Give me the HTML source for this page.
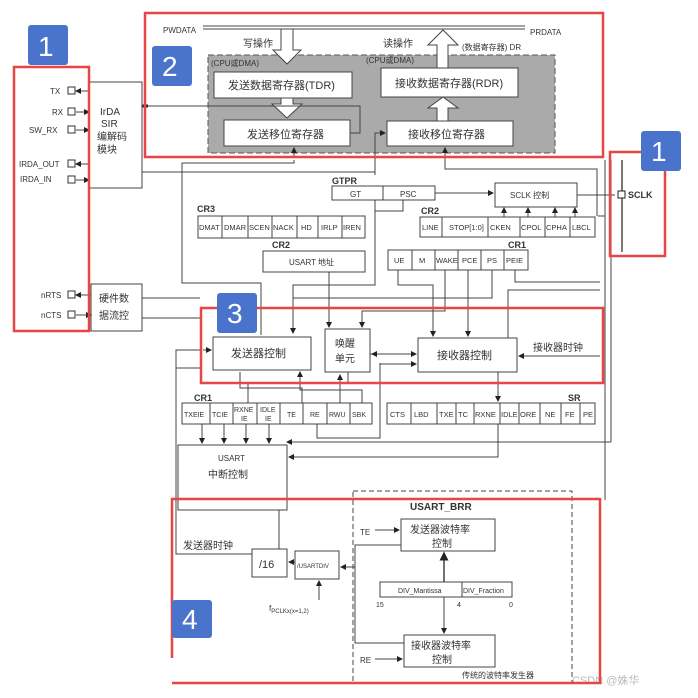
<!DOCTYPE html>
<html><head><meta charset="utf-8"><style>
html,body{margin:0;padding:0;background:#fff;}
svg{display:block;}
text{font-family:"Liberation Sans","Noto Sans CJK SC",sans-serif;fill:#333;}
.b{fill:#fff;stroke:#444;stroke-width:1;}
.l{fill:none;stroke:#444;stroke-width:1;}
.r{fill:none;stroke:#e84545;stroke-width:2.5;}
.s{font-size:8px;}
.m{font-size:10px;}
.c{font-size:11px;}
.bl{fill:#4a74cc;}
.n{font-size:28px;fill:#fff;}
</style></head><body>
<svg width="698" height="698" viewBox="0 0 698 698" xmlns="http://www.w3.org/2000/svg">
<defs><marker id="a" markerWidth="6" markerHeight="6" refX="5" refY="3" orient="auto"><path d="M0,0 L6,3 L0,6z" fill="#222"/></marker></defs>

<!-- Section 2: gray area -->
<rect x="208" y="55" width="347" height="98" fill="#aaa" stroke="#555" stroke-dasharray="6,3"/>
<text x="163" y="33" class="s">PWDATA</text>
<text x="530" y="35" class="s">PRDATA</text>
<line x1="203" y1="26" x2="525" y2="26" class="l"/>
<line x1="203" y1="29" x2="281" y2="29" class="l"/>
<line x1="293" y1="29" x2="525" y2="29" class="l"/>
<polygon points="281,29 293,29 293,50 301,50 287,64 273,50 281,50" fill="#fff" stroke="#444"/>
<polygon points="281,98 293,98 293,104 302,104 287,118 272,104 281,104" fill="#fff" stroke="#444"/>
<polygon points="437,68 448,68 448,45 458,45 443,30 428,45 437,45" fill="#fff" stroke="#444"/>
<polygon points="437,121 448,121 448,108 458,108 443,97 428,108 437,108" fill="#fff" stroke="#444"/>
<text x="243" y="47" class="m">写操作</text>
<text x="383" y="47" class="m">读操作</text>
<text x="462" y="50" class="s">(数据寄存器) DR</text>
<text x="211" y="66" class="s">(CPU或DMA)</text>
<text x="366" y="63" class="s">(CPU或DMA)</text>
<rect x="214" y="72" width="138" height="26" class="b"/>
<text x="228" y="89" class="c">发送数据寄存器(TDR)</text>
<rect x="381" y="68" width="137" height="29" class="b"/>
<text x="395" y="87" class="c">接收数据寄存器(RDR)</text>
<rect x="224" y="120" width="126" height="26" class="b"/>
<text x="247" y="138" class="c">发送移位寄存器</text>
<rect x="387" y="121" width="126" height="25" class="b"/>
<text x="408" y="138" class="c">接收移位寄存器</text>
<path d="M350,133 L360,133 L360,106 L148,106" class="l"/>
<line x1="142" y1="106" x2="148" y2="106" stroke="#222" stroke-width="3"/>
<path d="M375,175 L375,133 L385,133" class="l" marker-end="url(#a)"/>

<!-- Section 1 left -->
<rect x="89" y="82" width="53" height="106" class="b"/>
<text x="100" y="115" class="m">IrDA</text>
<text x="101" y="127" class="m">SIR</text>
<text x="97" y="140" class="m">编解码</text>
<text x="97" y="153" class="m">模块</text>
<rect x="91" y="284" width="51" height="47" class="b"/>
<text x="99" y="302" class="m">硬件数</text>
<text x="99" y="319" class="m">据流控</text>
<g class="s">
<text x="50" y="94">TX</text><text x="52" y="115">RX</text><text x="29" y="133">SW_RX</text>
<text x="19" y="167">IRDA_OUT</text><text x="20" y="182">IRDA_IN</text>
<text x="41" y="298">nRTS</text><text x="41" y="318">nCTS</text>
</g>
<g fill="#fff" stroke="#333">
<rect x="68" y="87" width="7" height="7"/><rect x="68" y="108" width="7" height="7"/><rect x="68" y="126" width="7" height="7"/>
<rect x="68" y="160" width="7" height="7"/><rect x="68" y="176" width="7" height="7"/><rect x="68" y="291" width="7" height="7"/><rect x="68" y="311" width="7" height="7"/>
</g>
<g class="l">
<line x1="89" y1="91" x2="76" y2="91" marker-end="url(#a)"/>
<line x1="76" y1="112" x2="89" y2="112" marker-end="url(#a)"/>
<line x1="76" y1="130" x2="89" y2="130" marker-end="url(#a)"/>
<line x1="89" y1="164" x2="76" y2="164" marker-end="url(#a)"/>
<line x1="76" y1="180" x2="89" y2="180" marker-end="url(#a)"/>
<line x1="91" y1="295" x2="76" y2="295" marker-end="url(#a)"/>
<line x1="76" y1="315" x2="91" y2="315" marker-end="url(#a)"/>
<line x1="142" y1="172" x2="375" y2="172"/>
<line x1="142" y1="298" x2="200" y2="298"/>
<line x1="142" y1="318" x2="200" y2="318"/>
</g>

<!-- middle frame lines -->
<g class="l">
<path d="M294,160 L294,163 L182,163 L182,283 L261,283 L261,335"/>
<path d="M445,148 L445,169 L597,169 L597,216"/>
<line x1="294" y1="158" x2="294" y2="148" marker-end="url(#a)"/>
<line x1="445" y1="158" x2="445" y2="148" marker-end="url(#a)"/>
<path d="M577,195 L605,195"/>
<line x1="611" y1="160" x2="611" y2="442"/>
<path d="M611,442 L287,442" marker-end="url(#a)"/>
<line x1="605" y1="160" x2="605" y2="500"/>
<path d="M598,216 L605,216"/>
<path d="M200,350 L176,350 L176,554 L252,554"/>
<path d="M200,368 L176,368"/>
</g>

<!-- GTPR / SCLK -->
<text x="332" y="184" style="font-size:9px;font-weight:bold">GTPR</text>
<rect x="332" y="186" width="103" height="14" class="b"/>
<line x1="383" y1="186" x2="383" y2="200" class="l"/>
<text x="350" y="197" class="s">GT</text><text x="400" y="197" class="s">PSC</text>
<path d="M375,200 L375,211 L403,211 L403,200" class="l"/>
<line x1="435" y1="193" x2="493" y2="193" class="l" marker-end="url(#a)"/>
<rect x="495" y="183" width="82" height="24" class="b"/>
<text x="510" y="198" class="s">SCLK 控制</text>
<line x1="577" y1="195" x2="615" y2="195" class="l"/>
<line x1="622" y1="160" x2="622" y2="252" stroke="#222" stroke-width="1.2"/>
<rect x="618" y="191" width="7" height="7" fill="#fff" stroke="#222"/>
<text x="628" y="198" style="font-size:9px;font-weight:bold">SCLK</text>

<!-- CR3 -->
<text x="197" y="212" style="font-size:9px;font-weight:bold">CR3</text>
<rect x="198" y="216" width="167" height="22" class="b"/>
<g class="l"><line x1="222" y1="216" x2="222" y2="238"/><line x1="248" y1="216" x2="248" y2="238"/><line x1="272" y1="216" x2="272" y2="238"/><line x1="297" y1="216" x2="297" y2="238"/><line x1="318" y1="216" x2="318" y2="238"/><line x1="342" y1="216" x2="342" y2="238"/></g>
<g style="font-size:7.5px"><text x="199" y="230">DMAT</text><text x="224" y="230">DMAR</text><text x="249" y="230">SCEN</text><text x="273" y="230">NACK</text><text x="301" y="230">HD</text><text x="321" y="230">IRLP</text><text x="343" y="230">IREN</text></g>

<!-- CR2 right -->
<text x="421" y="214" style="font-size:9px;font-weight:bold">CR2</text>
<rect x="420" y="217" width="175" height="20" class="b"/>
<g class="l"><line x1="442" y1="217" x2="442" y2="237"/><line x1="488" y1="217" x2="488" y2="237"/><line x1="520" y1="217" x2="520" y2="237"/><line x1="545" y1="217" x2="545" y2="237"/><line x1="570" y1="217" x2="570" y2="237"/></g>
<g style="font-size:7.5px"><text x="422" y="230">LINE</text><text x="449" y="230">STOP[1:0]</text><text x="490" y="230">CKEN</text><text x="521" y="230">CPOL</text><text x="546" y="230">CPHA</text><text x="572" y="230">LBCL</text></g>
<g class="l"><line x1="504" y1="217" x2="504" y2="208" marker-end="url(#a)"/><line x1="528" y1="217" x2="528" y2="208" marker-end="url(#a)"/><line x1="555" y1="217" x2="555" y2="208" marker-end="url(#a)"/><line x1="575" y1="217" x2="575" y2="208" marker-end="url(#a)"/></g>

<!-- CR2 USART addr -->
<text x="272" y="248" style="font-size:9px;font-weight:bold">CR2</text>
<rect x="263" y="251" width="102" height="21" class="b"/>
<text x="289" y="265" class="s">USART 地址</text>

<!-- CR1 top -->
<text x="508" y="248" style="font-size:9px;font-weight:bold">CR1</text>
<rect x="388" y="250" width="140" height="20" class="b"/>
<g class="l"><line x1="412" y1="250" x2="412" y2="270"/><line x1="435" y1="250" x2="435" y2="270"/><line x1="458" y1="250" x2="458" y2="270"/><line x1="481" y1="250" x2="481" y2="270"/><line x1="504" y1="250" x2="504" y2="270"/></g>
<g style="font-size:7.5px"><text x="394" y="263">UE</text><text x="419" y="263">M</text><text x="436" y="263">WAKE</text><text x="462" y="263">PCE</text><text x="487" y="263">PS</text><text x="506" y="263">PEIE</text></g>

<!-- connectors into section 3 -->
<g class="l">
<path d="M375,211 L375,285 L293,285 L293,333" marker-end="url(#a)"/>
<path d="M329,272 L329,327" marker-end="url(#a)"/>
<path d="M398,270 L398,285 L433,285 L433,336" marker-end="url(#a)"/>
<path d="M445,270 L445,311 L362,311 L362,327" marker-end="url(#a)"/>
<path d="M468,270 L468,336" marker-end="url(#a)"/>
<path d="M492,270 L492,298 L293,298" />
<path d="M515,270 L515,282 L600,282"/>
<path d="M508,338 L508,290 L600,290"/>
<path d="M203,350 L211,350" marker-end="url(#a)"/>
<path d="M370,354 L416,354" marker-end="url(#a)"/>
<path d="M375,354 L372,354" marker-end="url(#a)"/>
<path d="M380,363 L380,400"/>
<path d="M380,364 L416,364" marker-end="url(#a)"/>
<path d="M600,356 L519,356" marker-end="url(#a)"/>
</g>
<rect x="213" y="337" width="98" height="33" class="b"/>
<text x="231" y="357" class="c">发送器控制</text>
<rect x="325" y="329" width="45" height="43" class="b"/>
<text x="335" y="347" class="m">唤醒</text><text x="335" y="362" class="m">单元</text>
<rect x="418" y="338" width="99" height="34" class="b"/>
<text x="437" y="359" class="c">接收器控制</text>
<text x="533" y="351" class="m">接收器时钟</text>

<!-- CR1 bottom & lines -->
<g class="l">
<path d="M248,403 L248,383 L348,383 L348,372"/>
<path d="M302,403 L302,388 L240,388 L240,372" />
<path d="M340,403 L340,375" marker-end="url(#a)"/>
<path d="M362,403 L362,390 L300,390 L300,372" marker-end="url(#a)"/>
<path d="M317,424 L317,438 L380,438 L380,390"/>
<path d="M498,372 L498,383 L498,401" marker-end="url(#a)"/>
<path d="M498,424 L498,457 L289,457" marker-end="url(#a)"/>
<path d="M202,424 L202,443" marker-end="url(#a)"/>
<path d="M224,424 L224,443" marker-end="url(#a)"/>
<path d="M246,424 L246,443" marker-end="url(#a)"/>
<path d="M269,424 L269,443" marker-end="url(#a)"/>
</g>
<text x="194" y="401" style="font-size:9px;font-weight:bold">CR1</text>
<rect x="182" y="403" width="190" height="21" class="b"/>
<g class="l"><line x1="210" y1="403" x2="210" y2="424"/><line x1="233" y1="403" x2="233" y2="424"/><line x1="257" y1="403" x2="257" y2="424"/><line x1="280" y1="403" x2="280" y2="424"/><line x1="303" y1="403" x2="303" y2="424"/><line x1="327" y1="403" x2="327" y2="424"/><line x1="350" y1="403" x2="350" y2="424"/></g>
<g style="font-size:7px"><text x="184" y="417">TXEIE</text><text x="212" y="417">TCIE</text><text x="234" y="412">RXNE</text><text x="241" y="421">IE</text><text x="260" y="412">IDLE</text><text x="265" y="421">IE</text><text x="287" y="417">TE</text><text x="310" y="417">RE</text><text x="329" y="417">RWU</text><text x="352" y="417">SBK</text></g>

<text x="568" y="401" style="font-size:9px;font-weight:bold">SR</text>
<rect x="387" y="403" width="208" height="21" class="b"/>
<g class="l"><line x1="411" y1="403" x2="411" y2="424"/><line x1="437" y1="403" x2="437" y2="424"/><line x1="456" y1="403" x2="456" y2="424"/><line x1="474" y1="403" x2="474" y2="424"/><line x1="500" y1="403" x2="500" y2="424"/><line x1="519" y1="403" x2="519" y2="424"/><line x1="540" y1="403" x2="540" y2="424"/><line x1="561" y1="403" x2="561" y2="424"/><line x1="580" y1="403" x2="580" y2="424"/></g>
<g style="font-size:7.5px"><text x="390" y="417">CTS</text><text x="414" y="417">LBD</text><text x="439" y="417">TXE</text><text x="458" y="417">TC</text><text x="475" y="417">RXNE</text><text x="501" y="417">IDLE</text><text x="520" y="417">ORE</text><text x="545" y="417">NE</text><text x="565" y="417">FE</text><text x="583" y="417">PE</text></g>

<rect x="178" y="445" width="109" height="65" class="b"/>
<text x="218" y="461" class="s">USART</text>
<text x="208" y="478" class="m">中断控制</text>

<!-- Section 4 -->
<rect x="353" y="491" width="219" height="192" fill="none" stroke="#444" stroke-dasharray="5,3"/>
<text x="410" y="510" style="font-size:10px;font-weight:bold">USART_BRR</text>
<rect x="401" y="519" width="94" height="32" class="b"/>
<text x="410" y="533" class="m">发送器波特率</text><text x="432" y="547" class="m">控制</text>
<rect x="404" y="635" width="91" height="32" class="b"/>
<text x="411" y="649" class="m">接收器波特率</text><text x="432" y="663" class="m">控制</text>
<rect x="380" y="582" width="132" height="15" class="b"/>
<line x1="462" y1="582" x2="462" y2="597" class="l"/>
<text x="398" y="593" style="font-size:7px">DIV_Mantissa</text>
<text x="463" y="593" style="font-size:7px">DIV_Fraction</text>
<text x="376" y="607" style="font-size:7px">15</text><text x="457" y="607" style="font-size:7px">4</text><text x="509" y="607" style="font-size:7px">0</text>
<g class="l">
<line x1="444" y1="582" x2="444" y2="553" marker-end="url(#a)" stroke-width="1.5"/>
<line x1="444" y1="597" x2="444" y2="633" marker-end="url(#a)"/>
<line x1="375" y1="530" x2="399" y2="530" marker-end="url(#a)"/>
<line x1="375" y1="659" x2="402" y2="659" marker-end="url(#a)"/>
<path d="M401,545 L355,545 L355,643 L404,643"/>
<line x1="355" y1="567" x2="341" y2="567" marker-end="url(#a)"/>
<line x1="295" y1="562" x2="289" y2="562" marker-end="url(#a)"/>
<line x1="319" y1="600" x2="319" y2="581" marker-end="url(#a)"/>
<path d="M279,510 L279,549"/>
</g>
<text x="360" y="535" class="s">TE</text>
<text x="360" y="663" class="s">RE</text>
<rect x="252" y="549" width="35" height="28" class="b"/>
<text x="259" y="568" class="c">/16</text>
<rect x="295" y="551" width="44" height="28" class="b"/>
<text x="297" y="568" style="font-size:6px">/USARTDIV</text>
<text x="183" y="549" class="m">发送器时钟</text>
<text x="269" y="611" class="s">f<tspan style="font-size:6px" dy="2">PCLKx(x=1,2)</tspan></text>
<text x="462" y="678" style="font-size:8px">传统的波特率发生器</text>
<text x="572" y="684" style="font-size:11px;fill:#bbb">CSDN @姝华</text>

<!-- red boxes -->
<rect x="14" y="67" width="75" height="264" class="r"/>
<rect x="145" y="13" width="458" height="144" class="r"/>
<rect x="610" y="152" width="55" height="104" class="r"/>
<rect x="201" y="308" width="402" height="75" class="r"/>
<path d="M172,658 L172,499 L600,499 L600,683 L172,683" class="r"/>
<!-- blue badges -->
<rect x="28" y="25" width="40" height="40" rx="3" class="bl"/><text x="38" y="56" class="n">1</text>
<rect x="152" y="46" width="40" height="40" rx="3" class="bl"/><text x="162" y="76" class="n">2</text>
<rect x="641" y="131" width="40" height="40" rx="3" class="bl"/><text x="651" y="161" class="n">1</text>
<rect x="217" y="293" width="40" height="40" rx="3" class="bl"/><text x="227" y="323" class="n">3</text>
<rect x="172" y="600" width="40" height="38" rx="3" class="bl"/><text x="182" y="629" class="n">4</text>
</svg>
</body></html>
